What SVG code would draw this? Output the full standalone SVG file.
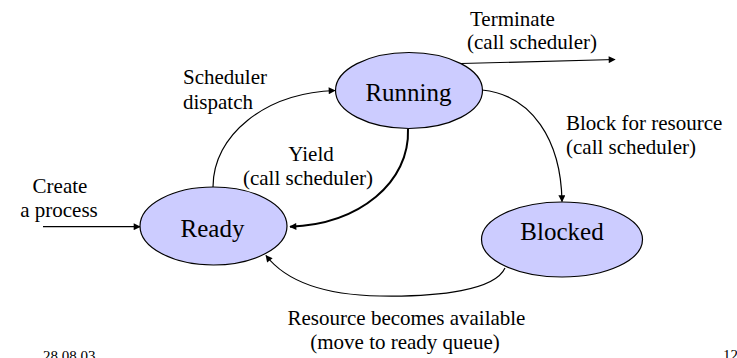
<svg xmlns="http://www.w3.org/2000/svg" width="737" height="358" viewBox="0 0 737 358">
<defs>
<style>
.node{fill:#CCCCFF;stroke:#000;stroke-width:1.2}
.nt{font-family:"Liberation Serif","Times New Roman",serif;font-size:25px;fill:#000;text-anchor:middle}
.lb{font-family:"Liberation Serif","Times New Roman",serif;font-size:21px;fill:#000}
.mid{text-anchor:middle}
.ft{font-family:"Liberation Serif","Times New Roman",serif;font-size:15px;fill:#000}
.edge{fill:none;stroke:#000;stroke-width:1.2}
.thick{stroke-width:2}
</style>
<marker id="arr" viewBox="0 0 10 10" refX="9" refY="5" markerWidth="8" markerHeight="7" markerUnits="userSpaceOnUse" orient="auto">
<path d="M0,0 L10,5 L0,10 z" fill="#000"/>
</marker>
</defs>
<rect width="737" height="358" fill="#fff"/>
<g id="connectors">
<path class="edge" d="M43,226.7 L140,226.7" marker-end="url(#arr)"/>
<path class="edge" d="M213,187 C213,135 265,93 335,90.5" marker-end="url(#arr)"/>
<path class="edge thick" d="M408,129 C410,182 360,224 290,226.7" marker-end="url(#arr)"/>
<path class="edge" d="M461,63.5 L615,59.5" marker-end="url(#arr)"/>
<path class="edge" d="M482,90 C532,95 561,140 562,201.5" marker-end="url(#arr)"/>
<path class="edge" d="M505,268 C495,290 440,297 380,296 C320,295 285,280 266,255.5" marker-end="url(#arr)"/>
</g>
<g id="running">
<ellipse class="node" cx="409" cy="90.5" rx="73.5" ry="38"/>
<text class="nt" x="408.5" y="101">Running</text>
</g>
<g id="ready">
<ellipse class="node" cx="213.5" cy="226" rx="73.5" ry="39"/>
<text class="nt" x="212.5" y="237">Ready</text>
</g>
<g id="blocked">
<ellipse class="node" cx="562" cy="239.5" rx="80.5" ry="37.5"/>
<text class="nt" x="562" y="240">Blocked</text>
</g>
<g id="labels">
<text class="lb" x="183" y="84">Scheduler</text>
<text class="lb" x="183" y="109">dispatch</text>
<text class="lb" x="470" y="26">Terminate</text>
<text class="lb" x="467" y="49">(call scheduler)</text>
<text class="lb" x="566" y="130">Block for resource</text>
<text class="lb" x="566" y="154">(call scheduler)</text>
<text class="lb mid" x="311" y="161">Yield</text>
<text class="lb mid" x="308" y="185">(call scheduler)</text>
<text class="lb mid" x="60" y="193">Create</text>
<text class="lb mid" x="59" y="217">a process</text>
<text class="lb mid" x="406.5" y="325">Resource becomes available</text>
<text class="lb mid" x="405" y="349">(move to ready queue)</text>
<text class="ft" x="43" y="361">28.08.03</text>
<text class="ft" x="723" y="360">12</text>
</g>
</svg>
